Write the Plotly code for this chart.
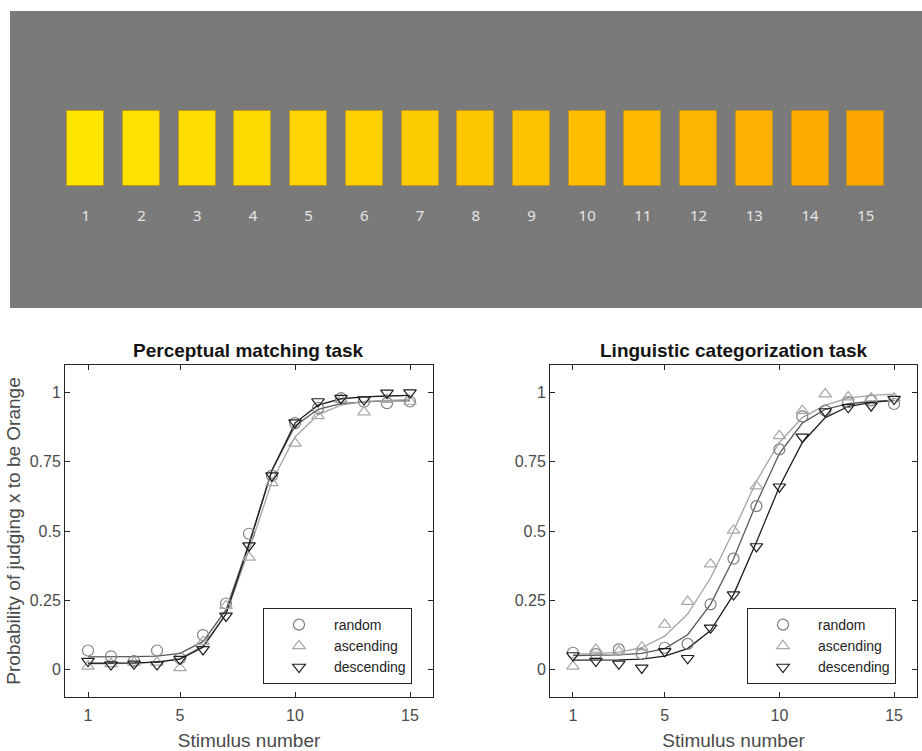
import plotly.graph_objects as go

# ---------------- data ----------------
stimulus = [1, 2, 3, 4, 5, 6, 7, 8, 9, 10, 11, 12, 13, 14, 15]
stimulus_labels = ["1", "2", "3", "4", "5", "6", "7", "8", "9", "10", "11", "12", "13", "14", "15"]
swatch_colors = ["#FFE500", "#FFE100", "#FEDD00", "#FED900", "#FED500", "#FDD100", "#FDCC00", "#FDC800",
                 "#FDC300", "#FDBF00", "#FDBA00", "#FDB500", "#FDB000", "#FDAB00", "#FDA600"]

# Perceptual matching task (observed proportions)
perc_random = [0.068, 0.047, 0.030, 0.068, 0.040, 0.124, 0.238, 0.490, 0.700, 0.890, 0.944, 0.980, 0.967, 0.962, 0.968]
perc_ascending = [0.011, 0.020, 0.025, 0.025, 0.005, 0.100, 0.230, 0.405, 0.674, 0.817, 0.916, 0.975, 0.930, 0.975, 0.968]
perc_descending = [0.030, 0.017, 0.020, 0.017, 0.037, 0.072, 0.193, 0.447, 0.700, 0.892, 0.968, 0.980, 0.975, 0.999, 1.000]
# Perceptual matching task (fitted curves)
perc_random_fit = [0.045, 0.045, 0.046, 0.048, 0.058, 0.100, 0.215, 0.455, 0.720, 0.880, 0.940, 0.960, 0.967, 0.970, 0.970]
perc_ascending_fit = [0.020, 0.020, 0.022, 0.026, 0.040, 0.085, 0.200, 0.430, 0.680, 0.840, 0.920, 0.955, 0.968, 0.972, 0.975]
perc_descending_fit = [0.022, 0.022, 0.023, 0.026, 0.037, 0.080, 0.200, 0.450, 0.720, 0.890, 0.955, 0.978, 0.985, 0.988, 0.990]

# Linguistic categorization task (observed proportions)
ling_random = [0.060, 0.055, 0.072, 0.055, 0.078, 0.092, 0.235, 0.400, 0.590, 0.795, 0.914, 0.935, 0.966, 0.972, 0.959]
ling_ascending = [0.011, 0.072, 0.065, 0.080, 0.162, 0.245, 0.380, 0.502, 0.662, 0.844, 0.935, 0.995, 0.984, 0.980, 0.980]
ling_descending = [0.050, 0.030, 0.020, 0.005, 0.065, 0.040, 0.150, 0.270, 0.444, 0.660, 0.840, 0.932, 0.947, 0.953, 0.977]
# Linguistic categorization task (fitted curves)
ling_random_fit = [0.050, 0.050, 0.052, 0.058, 0.075, 0.125, 0.235, 0.400, 0.600, 0.780, 0.890, 0.940, 0.960, 0.968, 0.972]
ling_ascending_fit = [0.055, 0.057, 0.062, 0.078, 0.120, 0.200, 0.330, 0.500, 0.680, 0.820, 0.910, 0.955, 0.980, 0.990, 0.995]
ling_descending_fit = [0.033, 0.033, 0.034, 0.037, 0.048, 0.075, 0.140, 0.270, 0.460, 0.660, 0.820, 0.910, 0.950, 0.965, 0.972]

series_names = ["random", "ascending", "descending"]
x_tickvals = [1, 5, 10, 15]
y_tickvals = [0, 0.25, 0.5, 0.75, 1]
y_ticktext = ["0", "0.25", "0.5", "0.75", "1"]

# ---------------- styles ----------------
W, H = 922, 751
FONT = "Liberation Sans, Arial, sans-serif"
marker_symbols = ["circle-open", "triangle-up-open", "triangle-down-open"]
marker_colors = ["#7f7f7f", "#a8a8a8", "#1e1e1e"]
line_colors = ["#585858", "#a4a4a4", "#1e1e1e"]
AX_COLOR = "#262626"
TICK_FONT_COLOR = "#4a4a4a"


def px_x(p):
    return p / W


def px_y(p):
    return 1 - p / H


fig = go.Figure()

# ---------------- top stimulus panel ----------------
panel_h = 297.0
sw_bottom = 122.3
sw_height = 74.7
fig.add_trace(go.Bar(
    x=stimulus, y=[sw_height] * len(stimulus), base=sw_bottom, width=0.665,
    marker=dict(color=swatch_colors, line=dict(color="rgba(200,140,0,0.55)", width=1)),
    xaxis="x3", yaxis="y3", showlegend=False, hoverinfo="skip",
))
fig.add_trace(go.Scatter(
    x=stimulus, y=[91] * len(stimulus), mode="text", text=stimulus_labels,
    textfont=dict(family="Noto Sans, sans-serif", size=15, color="#e6e6e6"),
    textposition="middle center",
    xaxis="x3", yaxis="y3", showlegend=False, hoverinfo="skip",
))

# ---------------- psychometric panels ----------------
panels = [
    ("x", "y", "legend",
     [perc_random, perc_ascending, perc_descending],
     [perc_random_fit, perc_ascending_fit, perc_descending_fit]),
    ("x2", "y2", "legend2",
     [ling_random, ling_ascending, ling_descending],
     [ling_random_fit, ling_ascending_fit, ling_descending_fit]),
]
for xa, ya, lg, obs, fits in panels:
    for i in range(3):
        fig.add_trace(go.Scatter(
            x=stimulus, y=fits[i], mode="lines",
            line=dict(color=line_colors[i], width=1.3),
            xaxis=xa, yaxis=ya, showlegend=False, hoverinfo="skip",
        ))
    for i in range(3):
        fig.add_trace(go.Scatter(
            x=stimulus, y=obs[i], mode="markers", name=series_names[i],
            marker=dict(symbol=marker_symbols[i], size=11, color=marker_colors[i],
                        line=dict(width=1.2, color=marker_colors[i])),
            xaxis=xa, yaxis=ya, legend=lg,
        ))

common_x = dict(range=[0, 16], tickmode="array", tickvals=x_tickvals,
                showline=True, mirror="ticks", linecolor=AX_COLOR, linewidth=1,
                ticks="inside", ticklen=5, tickcolor=AX_COLOR, showgrid=False, zeroline=False,
                ticklabelstandoff=4,
                tickfont=dict(family=FONT, size=16, color=TICK_FONT_COLOR),
                title=dict(text="Stimulus number", font=dict(family=FONT, size=19, color=TICK_FONT_COLOR),
                           standoff=10))
common_y = dict(range=[-0.1, 1.1], tickmode="array", tickvals=y_tickvals, ticktext=y_ticktext,
                showline=True, mirror="ticks", linecolor=AX_COLOR, linewidth=1,
                ticks="inside", ticklen=5, tickcolor=AX_COLOR, showgrid=False, zeroline=False,
                tickfont=dict(family=FONT, size=16, color=TICK_FONT_COLOR))

y_dom = [px_y(697), px_y(365)]
legend_common = dict(bgcolor="white", bordercolor=AX_COLOR, borderwidth=1,
                     font=dict(family=FONT, size=14, color="#1e1e1e"),
                     xanchor="left", yanchor="top", tracegroupgap=0, itemwidth=60)

fig.update_layout(
    width=W, height=H,
    margin=dict(l=0, r=0, t=0, b=0),
    paper_bgcolor="white", plot_bgcolor="white",
    showlegend=True,
    bargap=0,
    xaxis=dict(domain=[px_x(65), px_x(433)], anchor="y", **common_x),
    yaxis=dict(domain=y_dom, anchor="x",
               title=dict(text="Probability of judging x to be Orange",
                          font=dict(family=FONT, size=19, color=TICK_FONT_COLOR), standoff=4),
               **common_y),
    xaxis2=dict(domain=[px_x(550), px_x(917)], anchor="y2", **common_x),
    yaxis2=dict(domain=y_dom, anchor="x2", **common_y),
    xaxis3=dict(domain=[px_x(10), 1.0], anchor="y3", range=[-0.361, 16.01],
                visible=False, fixedrange=True),
    yaxis3=dict(domain=[px_y(308), px_y(11)], anchor="x3", range=[0, panel_h],
                visible=False, fixedrange=True),
    legend=dict(x=px_x(263), y=px_y(608), **legend_common),
    legend2=dict(x=px_x(747), y=px_y(608), **legend_common),
    shapes=[dict(type="rect", xref="x3 domain", yref="y3 domain", x0=0, x1=1, y0=0, y1=1,
                 fillcolor="#7a7a7a", line=dict(width=0), layer="below")],
    annotations=[
        dict(text="<b>Perceptual matching task</b>", x=(px_x(65) + px_x(433)) / 2, y=px_y(350),
             xref="paper", yref="paper", showarrow=False, xanchor="center", yanchor="middle",
             font=dict(family=FONT, size=19, color="#141414")),
        dict(text="<b>Linguistic categorization task</b>", x=(px_x(550) + px_x(917)) / 2, y=px_y(350),
             xref="paper", yref="paper", showarrow=False, xanchor="center", yanchor="middle",
             font=dict(family=FONT, size=19, color="#141414")),
    ],
)

fig.write_html("out.html", config={"displayModeBar": False},
               post_script="document.body.style.margin='0px';document.body.style.overflow='hidden';")
